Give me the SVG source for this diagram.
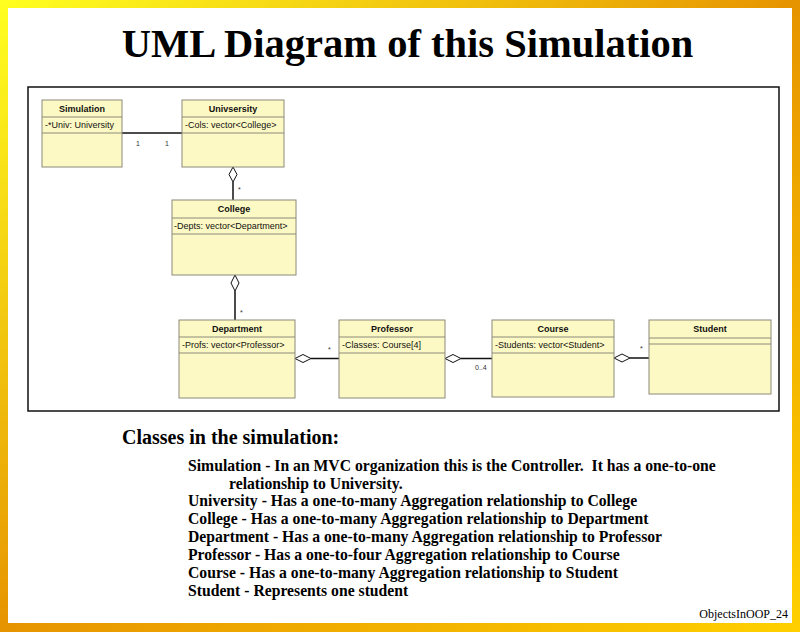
<svg xmlns="http://www.w3.org/2000/svg" width="800" height="632" viewBox="0 0 800 632">
<defs>
<linearGradient id="bg" x1="0" y1="0" x2="1" y2="1">
<stop offset="0" stop-color="#ffff20"/>
<stop offset="0.5" stop-color="#e69400"/>
<stop offset="1" stop-color="#ffd000"/>
</linearGradient>
<style>
.cls{fill:#fdf9c4;stroke:#8a8a7a;stroke-width:1}
.div{stroke:#8a8a7a;stroke-width:1}
.name{font-family:"Liberation Sans",Arial,sans-serif;font-size:9px;font-weight:bold;text-anchor:middle;fill:#111}
.attr{font-family:"Liberation Sans",Arial,sans-serif;font-size:9px;fill:#111}
.mult{font-family:"Liberation Sans",Arial,sans-serif;font-size:7px;fill:#333}
.ln{stroke:#111;stroke-width:1.5;fill:none}
.dia{fill:#fff;stroke:#111;stroke-width:1}
.body{font-family:"Liberation Serif","Times New Roman",serif;font-size:15.7px;font-weight:bold;fill:#000;white-space:pre}
</style>
</defs>
<rect x="0" y="0" width="800" height="632" fill="url(#bg)"/>
<rect x="8" y="8" width="784" height="615" fill="#fff"/>
<text x="407.5" y="57" text-anchor="middle" font-family="Liberation Serif,'Times New Roman',serif" font-size="40.5" font-weight="bold">UML Diagram of this Simulation</text>
<rect x="28" y="87" width="751" height="324" fill="#fff" stroke="#111" stroke-width="1.5"/>

<g id="connectors">
<line class="ln" x1="122" y1="133" x2="182" y2="133"/>
<text class="mult" x="136" y="146">1</text>
<text class="mult" x="165" y="146">1</text>
<line class="ln" x1="233" y1="182" x2="233" y2="200"/>
<polygon class="dia" points="233,167 237,174.5 233,182 229,174.5"/>
<text class="mult" x="238" y="192">*</text>
<line class="ln" x1="235" y1="291" x2="235" y2="320"/>
<polygon class="dia" points="235,275 239,283 235,291 231,283"/>
<text class="mult" x="240" y="315">*</text>
<line class="ln" x1="311" y1="358.5" x2="339" y2="358.5"/>
<polygon class="dia" points="295,358.5 303,354.5 311,358.5 303,362.5"/>
<text class="mult" x="328" y="352">*</text>
<line class="ln" x1="461" y1="358.5" x2="492" y2="358.5"/>
<polygon class="dia" points="445,358.5 453,354.5 461,358.5 453,362.5"/>
<text class="mult" x="475" y="370">0..4</text>
<line class="ln" x1="630" y1="358" x2="649" y2="358"/>
<polygon class="dia" points="614,358 622,354 630,358 622,362"/>
<text class="mult" x="640" y="351">*</text>
</g>

<g id="simulation">
<rect class="cls" x="42" y="100" width="80" height="67"/>
<line class="div" x1="42" y1="117" x2="122" y2="117"/>
<line class="div" x1="42" y1="133" x2="122" y2="133"/>
<text class="name" x="82" y="112">Simulation</text>
<text class="attr" x="45" y="128">-*Univ: University</text>
</g>
<g id="university">
<rect class="cls" x="182" y="100" width="102" height="67"/>
<line class="div" x1="182" y1="117" x2="284" y2="117"/>
<line class="div" x1="182" y1="133" x2="284" y2="133"/>
<text class="name" x="233" y="112">Univsersity</text>
<text class="attr" x="185" y="128">-Cols: vector&lt;College&gt;</text>
</g>
<g id="college">
<rect class="cls" x="172" y="200" width="124" height="75"/>
<line class="div" x1="172" y1="218" x2="296" y2="218"/>
<line class="div" x1="172" y1="234" x2="296" y2="234"/>
<text class="name" x="234" y="212">College</text>
<text class="attr" x="174" y="229">-Depts: vector&lt;Department&gt;</text>
</g>
<g id="department">
<rect class="cls" x="179" y="320" width="116" height="78"/>
<line class="div" x1="179" y1="337" x2="295" y2="337"/>
<line class="div" x1="179" y1="353" x2="295" y2="353"/>
<text class="name" x="237" y="332">Department</text>
<text class="attr" x="182" y="348">-Profs: vector&lt;Professor&gt;</text>
</g>
<g id="professor">
<rect class="cls" x="339" y="320" width="106" height="78"/>
<line class="div" x1="339" y1="337" x2="445" y2="337"/>
<line class="div" x1="339" y1="353" x2="445" y2="353"/>
<text class="name" x="392" y="332">Professor</text>
<text class="attr" x="342" y="348">-Classes: Course[4]</text>
</g>
<g id="course">
<rect class="cls" x="492" y="320" width="122" height="77"/>
<line class="div" x1="492" y1="337" x2="614" y2="337"/>
<line class="div" x1="492" y1="353" x2="614" y2="353"/>
<text class="name" x="553" y="332">Course</text>
<text class="attr" x="495" y="348">-Students: vector&lt;Student&gt;</text>
</g>
<g id="student">
<rect class="cls" x="649" y="320" width="122" height="74"/>
<line class="div" x1="649" y1="338" x2="771" y2="338"/>
<line class="div" x1="649" y1="344" x2="771" y2="344"/>
<text class="name" x="710" y="332">Student</text>
</g>

<text x="122" y="444" font-family="Liberation Serif,'Times New Roman',serif" font-size="20" font-weight="bold">Classes in the simulation:</text>
<text class="body" x="188" y="471" xml:space="preserve">Simulation - In an MVC organization this is the Controller.  It has a one-to-one</text>
<text class="body" x="229" y="489">relationship to University.</text>
<text class="body" x="188" y="506">University - Has a one-to-many Aggregation relationship to College</text>
<text class="body" x="188" y="524">College - Has a one-to-many Aggregation relationship to Department</text>
<text class="body" x="188" y="542">Department - Has a one-to-many Aggregation relationship to Professor</text>
<text class="body" x="188" y="560">Professor - Has a one-to-four Aggregation relationship to Course</text>
<text class="body" x="188" y="578">Course - Has a one-to-many Aggregation relationship to Student</text>
<text class="body" x="188" y="596">Student - Represents one student</text>
<text x="788" y="618" text-anchor="end" font-family="Liberation Serif,'Times New Roman',serif" font-size="12">ObjectsInOOP_24</text>
</svg>
